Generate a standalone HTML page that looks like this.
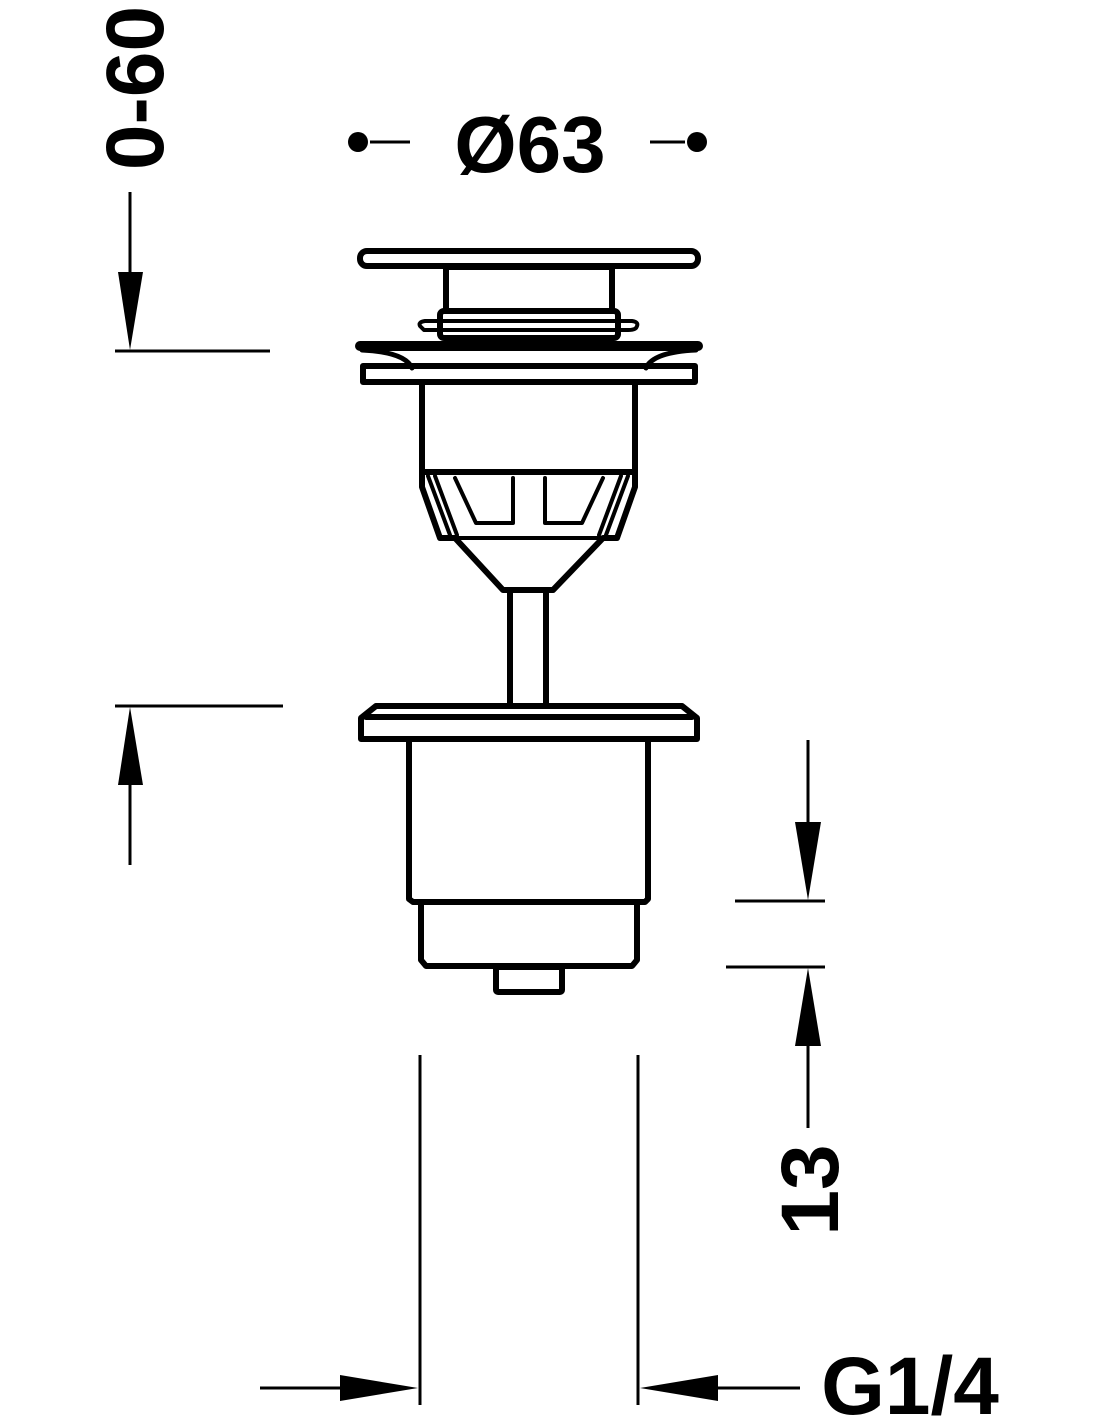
<!DOCTYPE html>
<html><head><meta charset="utf-8"><style>html,body{margin:0;padding:0;background:#fff}svg{display:block}</style></head>
<body>
<svg width="1100" height="1422" viewBox="0 0 1100 1422" xmlns="http://www.w3.org/2000/svg">
<rect width="1100" height="1422" fill="#fff"/>
<g fill="none" stroke="#000" stroke-width="6" stroke-linejoin="round" stroke-linecap="round">
<!-- cap -->
<rect x="360" y="251" width="338" height="15" rx="7"/>
<rect x="446" y="267" width="166" height="44"/>
<rect x="440" y="311" width="178" height="27" rx="4"/>
<path d="M420 326 Q418 322 425 321 L632 321 Q640 322 636 328 Q634 330 628 330 L424 330 Z" stroke-width="4"/>
<!-- flange -->
<path d="M360 346 L698 346" stroke-width="10"/>
<path d="M362 350 Q405 352 412 368 M696 350 Q653 352 646 368" stroke-width="5"/>
<rect x="363" y="366" width="332" height="16"/>
<!-- body -->
<path d="M422 382 L422 487 L440 538 L455 538 L503 590 L553 590 L603 538 L617 538 L635 487 L635 382"/>
<path d="M422 472 L635 472"/>
<path d="M428 476 L450 535 M435 476 L457 535 M628 476 L606 535 M621 476 L599 535" stroke-width="4"/>
<path d="M455 478 L476 523 L513 523 L513 478 M603 478 L582 523 L545 523 L545 478 M440 538 L617 538" stroke-width="4"/>
<!-- rod -->
<path d="M510 590 L510 705 M546 590 L546 705"/>
<!-- lower part -->
<path d="M376 706 L682 706 L697 718 L697 739 L361 739 L361 718 Z"/>
<path d="M366 717 L692 717"/>
<path d="M409 739 L409 899 L413 902 L645 902 L648 899 L648 739"/>
<path d="M421 902 L421 960 L426 966 L632 966 L637 960 L637 902"/>
<rect x="496" y="967" width="66" height="25" rx="2"/>
</g>
<!-- dimension lines -->
<g stroke="#000" stroke-width="3" fill="none">
<path d="M130 192 L130 280"/>
<path d="M115 351 L270 351"/>
<path d="M115 706 L283 706"/>
<path d="M130 865 L130 780"/>
<path d="M370 142 L410 142 M650 142 L685 142"/>
<path d="M808 740 L808 825"/>
<path d="M735 901 L825 901"/>
<path d="M726 967 L825 967"/>
<path d="M808 1128 L808 1045"/>
<path d="M420 1055 L420 1405 M638 1055 L638 1405"/>
<path d="M260 1388 L345 1388 M800 1388 L715 1388"/>
</g>
<g fill="#000">
<path d="M118 272 L143 272 L130 350 Z"/>
<path d="M118 785 L143 785 L130 707 Z"/>
<path d="M795 822 L821 822 L808 900 Z"/>
<path d="M795 1046 L821 1046 L808 968 Z"/>
<path d="M340 1375 L340 1401 L418 1388 Z"/>
<path d="M718 1375 L718 1401 L640 1388 Z"/>
<circle cx="358" cy="142" r="10"/>
<circle cx="697" cy="142" r="10"/>
</g>
<g font-family="Liberation Sans, sans-serif" font-weight="bold" fill="#000">
<text x="530" y="172" font-size="80" text-anchor="middle">Ø63</text>
<text x="910" y="1414" font-size="82" text-anchor="middle">G1/4</text>
<text transform="translate(163,88) rotate(-90)" font-size="82" text-anchor="middle">0-60</text>
<text transform="translate(838,1190) rotate(-90)" font-size="82" text-anchor="middle">13</text>
</g>
</svg>
</body></html>
